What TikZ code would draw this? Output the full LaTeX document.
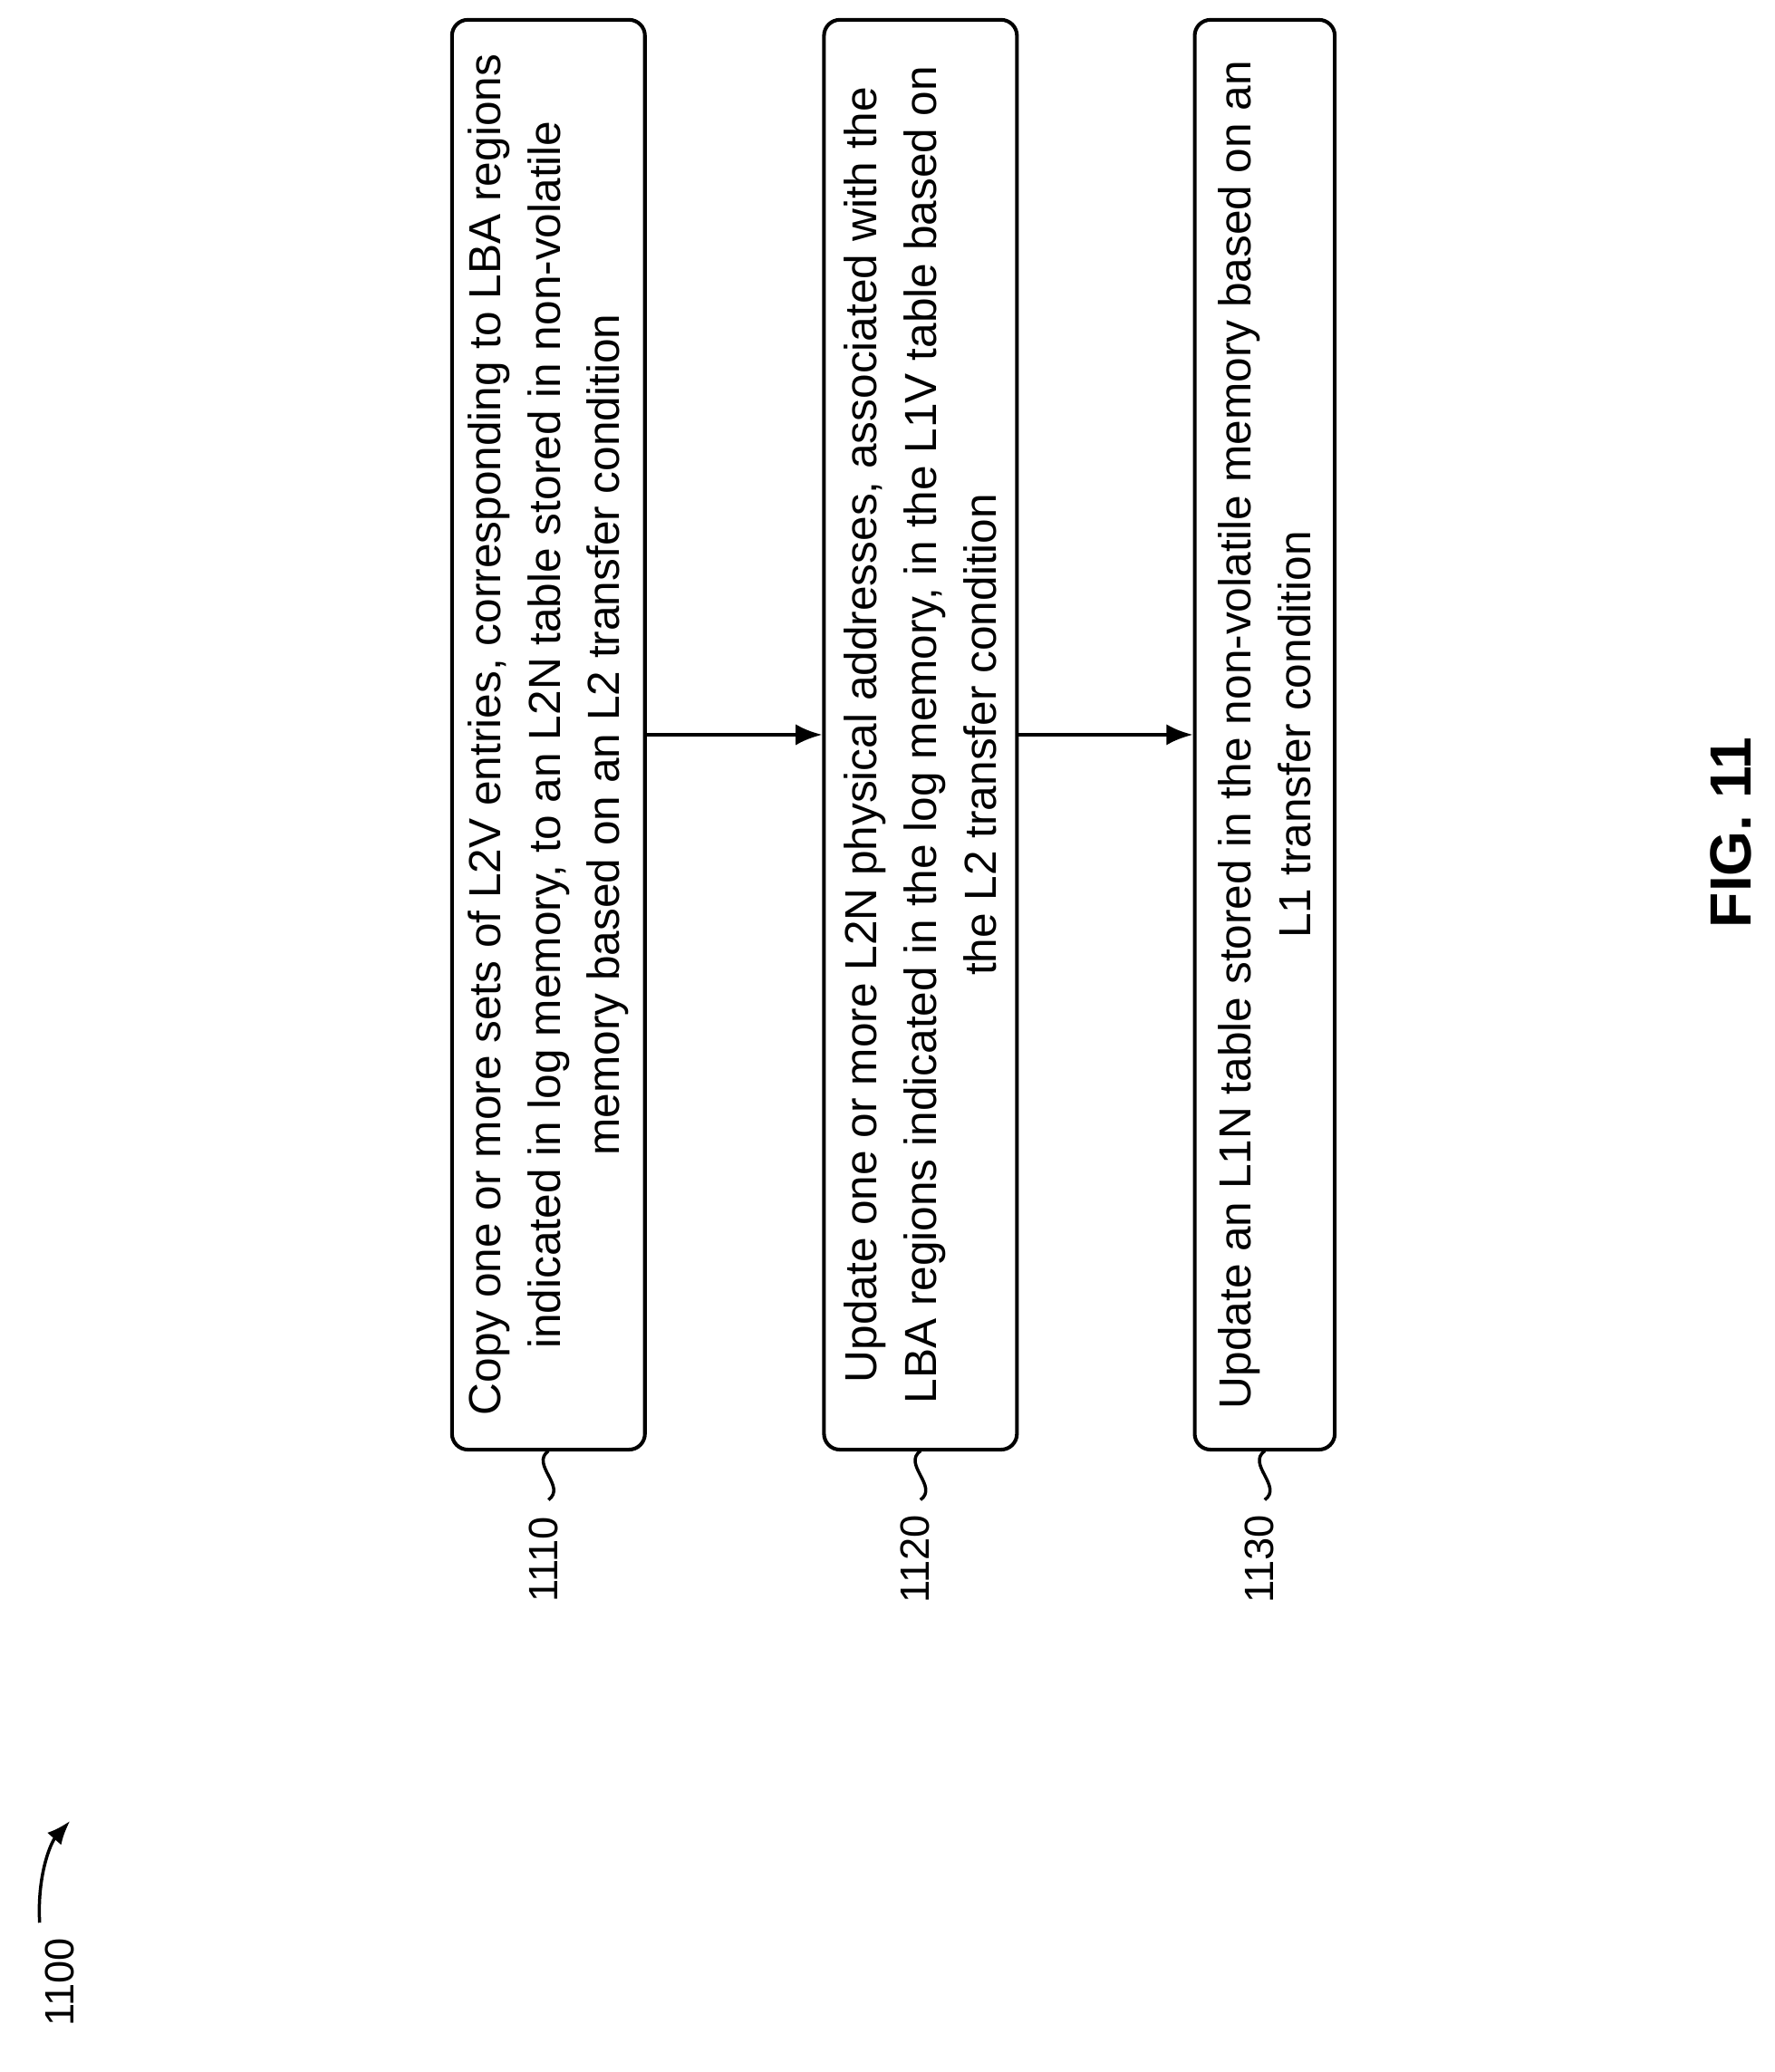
\documentclass[tikz,border=0pt]{standalone}
\usepackage{fontspec}
\setmainfont{Liberation Sans}
\usetikzlibrary{arrows.meta}
\tikzset{
  stepbox/.style={draw, line width=1.4pt, rounded corners=6pt, rotate=90, align=center,
    minimum width=541pt, inner sep=2pt, font=\fontsize{17}{22.5}\selectfont},
  ref/.style={rotate=90, font=\fontsize{15.5}{17}\selectfont},
}
\begin{document}
\begin{tikzpicture}[x=0.5pt, y=-0.5pt]
	\useasboundingbox (0,0) rectangle (1343,1568);
	
	\node[stepbox, minimum height=73pt] (b1) at (415,556) {Copy one or more sets of L2V entries, corresponding to LBA regions\\indicated in log memory, to an L2N table stored in non-volatile\\memory based on an L2 transfer condition};
	\node[stepbox, minimum height=73pt] (b2) at (696.5,556) {Update one or more L2N physical addresses, associated with the\\LBA regions indicated in the log memory, in the L1V table based on\\the L2 transfer condition};
	\node[stepbox, minimum height=53pt] (b3) at (957,556) {Update an L1N table stored in the non-volatile memory based on an\\L1 transfer condition};
	
	\draw[line width=1.4pt, -{Latex[length=10pt,width=8pt]}] (b1) -- (b2);
	\draw[line width=1.4pt, -{Latex[length=10pt,width=8pt]}] (b2) -- (b3);
	
	% reference numbers
	\foreach \x/\n in {415/1110, 696.5/1120, 957/1130}{
		\draw[line width=1.2pt] (\x,1098) .. controls (\x-14,1108) and (\x+14,1125) .. (\x,1135);
		\node[ref] (r\n) at (\x-4,1180) {\n};
	}
	
	\node[ref] (r1100) at (45,1500) {1100};
	\draw[line width=1.2pt, -{Latex[length=9pt,width=7pt]}] (30,1455) .. controls (28,1420) and (38,1395) .. (53,1378);
	
	\node[rotate=90, font=\bfseries\fontsize{22}{26}\selectfont] (fig) at (1310,630) {FIG. 11};
\end{tikzpicture}
\end{document}
